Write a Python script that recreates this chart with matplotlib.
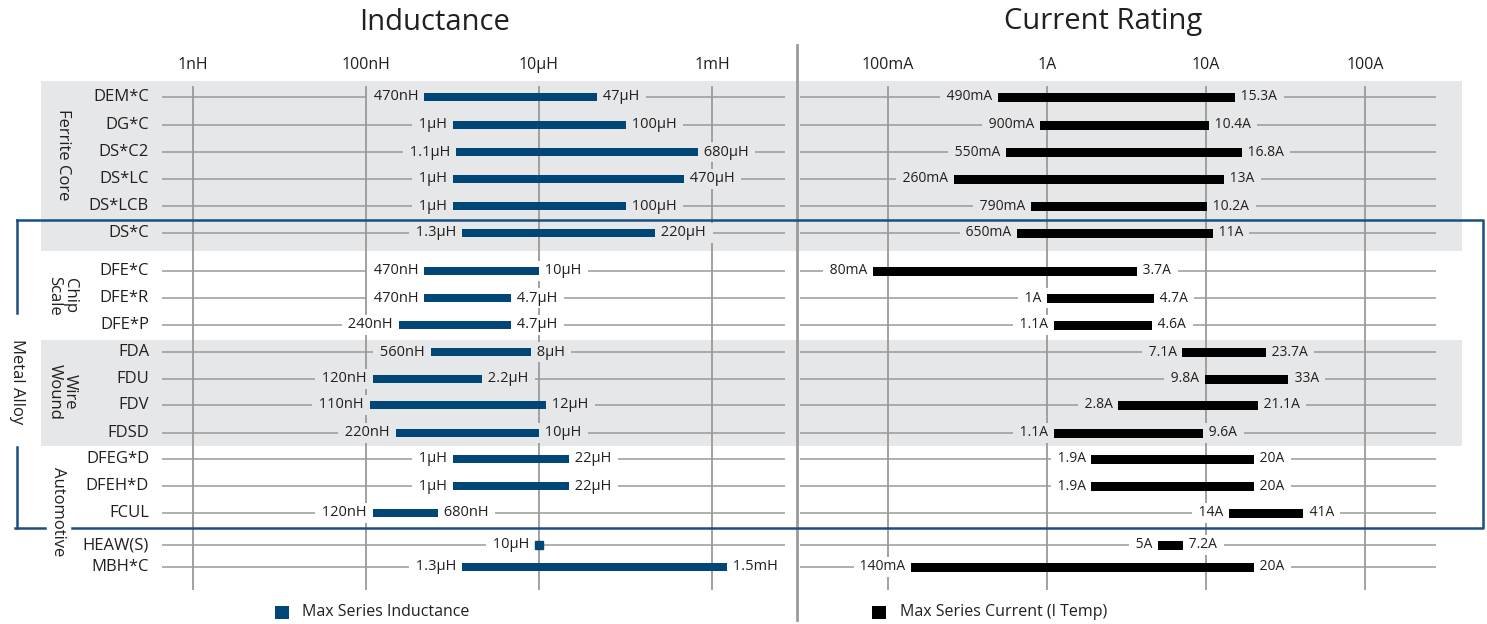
import matplotlib
matplotlib.use("Agg")  # no display needed
import matplotlib.pyplot as plt
from matplotlib.patches import Rectangle

plt.rcParams['font.family'] = ['Open Sans', 'DejaVu Sans']

# -------------------------------------------------------
# DATA
# -------------------------------------------------------
parts = ["DEM*C", "DG*C", "DS*C2", "DS*LC", "DS*LCB", "DS*C",
         "DFE*C", "DFE*R", "DFE*P",
         "FDA", "FDU", "FDV", "FDSD",
         "DFEG*D", "DFEH*D", "FCUL",
         "HEAW(S)", "MBH*C"]

# inductance range in nH
ind_min = [470, 1000, 1100, 1000, 1000, 1300,
           470, 470, 240,
           560, 120, 110, 220,
           1000, 1000, 120,
           10000, 1300]
ind_max = [47000, 100000, 680000, 470000, 100000, 220000,
           10000, 4700, 4700,
           8000, 2200, 12000, 10000,
           22000, 22000, 680,
           10000, 1500000]

# current rating range in A
cur_min = [0.49, 0.9, 0.55, 0.26, 0.79, 0.65,
           0.08, 1, 1.1,
           7.1, 9.8, 2.8, 1.1,
           1.9, 1.9, 14,
           5, 0.14]
cur_max = [15.3, 10.4, 16.8, 13, 10.2, 11,
           3.7, 4.7, 4.6,
           23.7, 33, 21.1, 9.6,
           20, 20, 41,
           7.2, 20]

ind_ticks = [1, 100, 1e4, 1e6]
ind_tick_labels = ["1nH", "100nH", "10µH", "1mH"]
cur_ticks = [0.1, 1, 10, 100]
cur_tick_labels = ["100mA", "1A", "10A", "100A"]

# rows sitting on the grey bands (Ferrite Core, Wire Wound)
shaded_rows = ["DEM*C", "DG*C", "DS*C2", "DS*LC", "DS*LCB", "DS*C",
               "FDA", "FDU", "FDV", "FDSD"]

# -------------------------------------------------------
# LAYOUT (pixel coordinates of the 1487x624 canvas)
# -------------------------------------------------------
W, H = 1487, 624
row_y = [97, 125, 152, 179, 206, 233, 271, 298, 325, 352, 379, 405,
         433, 459, 486, 513, 545, 567]

BLUE = "#004677"
BRACKET = "#1b4f80"
BAND = "#e6e7e8"
GRID = "#9a9a9a"
TXT = "#231f20"


def fmt_ind(v):
    if v < 1000:
        return f"{v:g}nH"
    if v < 1e6:
        return f"{v / 1000:g}µH"
    return f"{v / 1e6:g}mH"


def fmt_cur(v):
    if v < 1:
        return f"{v * 1000:g}mA"
    return f"{v:g}A"


fig = plt.figure(figsize=(W / 100, H / 100), dpi=100)

# background axes in pixel units
bg = fig.add_axes([0, 0, 1, 1])
bg.set_xlim(0, W)
bg.set_ylim(H, 0)
bg.axis("off")

# grey bands
bg.add_patch(Rectangle((41, 81), 1421, 170, fc=BAND, ec="none", zorder=0))
bg.add_patch(Rectangle((41, 340), 1421, 106, fc=BAND, ec="none", zorder=0))

# separator
bg.plot([797, 797], [45, 620], color=GRID, lw=2, zorder=1)

# group labels
grp_kw = dict(rotation=270, ha="center", va="center", fontsize=12,
              color=TXT, linespacing=0.95, rotation_mode="anchor")
bg.text(63, 155, "Ferrite Core", **grp_kw)
bg.text(62, 296, "Chip\nScale", **grp_kw)
bg.text(62, 392, "Wire\nWound", **grp_kw)
bg.text(17, 382, "Metal Alloy", **grp_kw)
bg.text(58, 512, "Automotive", **grp_kw)

# row labels
for name, y in zip(parts, row_y):
    bg.text(149, y, name, ha="right", va="center", fontsize=12, color=TXT)

# titles
bg.text(435, 22, "Inductance", ha="center", va="center", fontsize=21, color=TXT)
bg.text(1103, 22, "Current Rating", ha="center", va="center", fontsize=21, color=TXT)

# legend
bg.add_patch(Rectangle((275, 606), 14, 13, fc=BLUE, ec="none"))
bg.text(302, 612, "Max Series Inductance", ha="left", va="center", fontsize=11.5, color=TXT)
bg.add_patch(Rectangle((872, 606), 14, 13, fc="black", ec="none"))
bg.text(900, 612, "Max Series Current (I Temp)", ha="left", va="center", fontsize=11.5, color=TXT)


def make_panel(px0, px1, ref_px, ref_val, ppd):
    ax = fig.add_axes([px0 / W, 0, (px1 - px0) / W, 1])
    ax.set_xscale("log")
    ax.set_xlim(ref_val * 10 ** ((px0 - ref_px) / ppd),
                ref_val * 10 ** ((px1 - ref_px) / ppd))
    ax.set_ylim(H, 0)
    ax.axis("off")
    ax.patch.set_alpha(0)
    return ax


def draw_panel(ax, lo_vals, hi_vals, fmt, ticks, tick_labels, color, bar_h, fs):
    x0, x1 = ax.get_xlim()
    ax.vlines(ticks, 86, 590, color=GRID, lw=1.3, zorder=1)
    for t, lab in zip(ticks, tick_labels):
        ax.text(t, 65, lab, ha="center", va="center", fontsize=11.5, color=TXT)
    for name, y, lo, hi in zip(parts, row_y, lo_vals, hi_vals):
        ax.hlines(y, x0, x1, color=GRID, lw=1.1, zorder=1)
        bgc = BAND if name in shaded_rows else "white"
        kw = dict(textcoords="offset points", va="center", fontsize=fs, color=TXT,
                  bbox=dict(boxstyle="square,pad=0.2", fc=bgc, ec="none"), zorder=3)
        if lo == hi:
            ax.plot([lo], [y], marker="s", ms=6, color=color, zorder=4)
            ax.annotate(f" {fmt(lo)} ", (lo, y), xytext=(-4, 0), ha="right", **kw)
            continue
        ax.barh(y, hi - lo, left=lo, height=bar_h, color=color, zorder=4)
        ax.annotate(f" {fmt(lo)} ", (lo, y), xytext=(-1.5, 0), ha="right", **kw)
        ax.annotate(f" {fmt(hi)} ", (hi, y), xytext=(1.5, 0), ha="left", **kw)


ax_l = make_panel(162, 785, 193, 1.0, (712 - 193) / 6)
draw_panel(ax_l, ind_min, ind_max, fmt_ind, ind_ticks, ind_tick_labels, BLUE, 8, 10.5)

ax_r = make_panel(800, 1436, 888, 0.1, (1365 - 888) / 3)
draw_panel(ax_r, cur_min, cur_max, fmt_cur, cur_ticks, cur_tick_labels, "black", 9, 10)

# metal alloy bracket, drawn on top of everything
top = fig.add_axes([0, 0, 1, 1])
top.set_xlim(0, W)
top.set_ylim(H, 0)
top.axis("off")
top.patch.set_alpha(0)
lw_b = 1.8
top.plot([17, 1483, 1483, 72], [220, 220, 528, 528], color=BRACKET, lw=lw_b)
top.plot([15, 45], [528, 528], color=BRACKET, lw=lw_b)
top.plot([17, 17], [220, 313], color=BRACKET, lw=lw_b)
top.plot([17, 17], [447, 528], color=BRACKET, lw=lw_b)

plt.savefig("out.png", dpi=100)
plt.close()
